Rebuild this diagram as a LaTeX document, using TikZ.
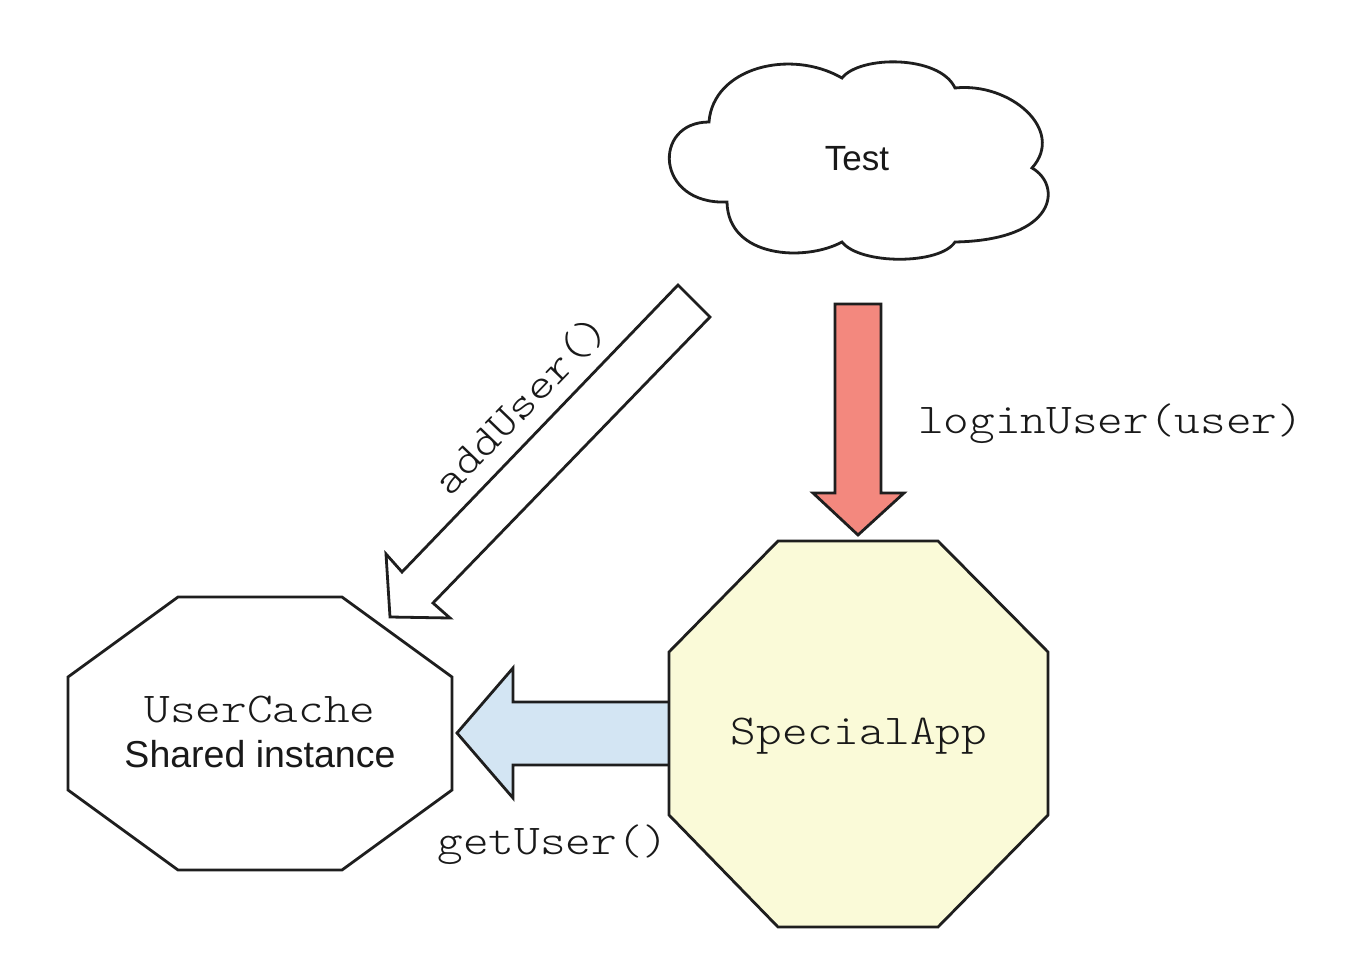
\documentclass[tikz,border=0pt]{standalone}
\usepackage{fontspec}
\setmainfont{Liberation Sans}
\setmonofont{lmmonolt10-regular.otf}[FakeStretch=1.15]
\definecolor{linec}{RGB}{30,30,30}
\definecolor{txt}{RGB}{25,25,25}
\definecolor{redfill}{RGB}{243,136,126}
\definecolor{bluefill}{RGB}{211,229,243}
\definecolor{yellowfill}{RGB}{250,250,216}
\begin{document}
\begin{tikzpicture}[x=1pt,y=-1pt,
  outline/.style={draw=linec, line width=2.8pt, line join=miter},
  monotxt/.style={font=\fontsize{42.5}{50}\selectfont\ttfamily, text=txt, inner sep=0pt},
  sanstxt/.style={font=\fontsize{37.5}{44}\selectfont, text=txt, inner sep=0pt},
  testtxt/.style={font=\fontsize{35}{40}\selectfont, text=txt, inner sep=0pt}]
\useasboundingbox[fill=white] (0,0) rectangle (1361,980);

% ---- cloud "Test"
\draw[outline, fill=white]
  (709,122) .. controls (713,68) and (790,48) .. (842,78)
  .. controls (860,55) and (940,55) .. (955,88)
  .. controls (1010,82) and (1066,130) .. (1032,168)
  .. controls (1062,185) and (1058,240) .. (955,242)
  .. controls (940,265) and (860,265) .. (842,242)
  .. controls (805,262) and (728,258) .. (727,202)
  .. controls (655,205) and (652,122) .. (709,122) -- cycle;
\node[testtxt, anchor=base] (test) at (857,170) {Test};

% ---- anchor coordinates for the block arrows
\coordinate (redTail) at (858,304);
\coordinate (redTip) at (858,535);
\coordinate (blueTail) at (669,733);
\coordinate (blueTip) at (457,733);
\coordinate (diagTip) at (390,617);

% ---- blue arrow getUser()  (drawn below SpecialApp)
\draw[outline, fill=bluefill]
  (blueTail |- 0,702) -- (513,702) -- (513,668) -- (blueTip) -- (513,798)
  -- (513,765) -- (blueTail |- 0,765);

% ---- SpecialApp octagon
\draw[outline, fill=yellowfill]
  (778,541) -- (938,541) -- (1048,652) -- (1048,815) -- (938,927)
  -- (778,927) -- (669,815) -- (669,652) -- cycle;
\node[monotxt, anchor=base] (app) at (859,744) {SpecialApp};

% ---- UserCache octagon
\draw[outline, fill=white]
  (178,597) -- (342,597) -- (452,677) -- (452,790) -- (342,870)
  -- (178,870) -- (68,790) -- (68,677) -- cycle;
\node[monotxt, anchor=base] (cache) at (260,722) {UserCache};
\node[sanstxt, anchor=base] (cachesub) at (260,767) {Shared instance};

% ---- red arrow loginUser(user)
\draw[outline, fill=redfill]
  (835,304) -- (835,493) -- (813,493) -- (redTip) -- (904,493)
  -- (881,493) -- (881,304) -- cycle;
\node[monotxt, anchor=base west] (login) at (918,433) {loginUser(user)};

% ---- white diagonal arrow addUser()
\draw[outline, fill=white]
  (678,285) -- (402,572) -- (386,554) -- (diagTip) -- (450,618)
  -- (433,603) -- (710,317) -- cycle;
\node[monotxt, rotate=46] (addu) at (521,405) {addUser()};

% ---- getUser() label
\node[monotxt, anchor=base] (getu) at (553,854) {getUser()};
\end{tikzpicture}
\end{document}
